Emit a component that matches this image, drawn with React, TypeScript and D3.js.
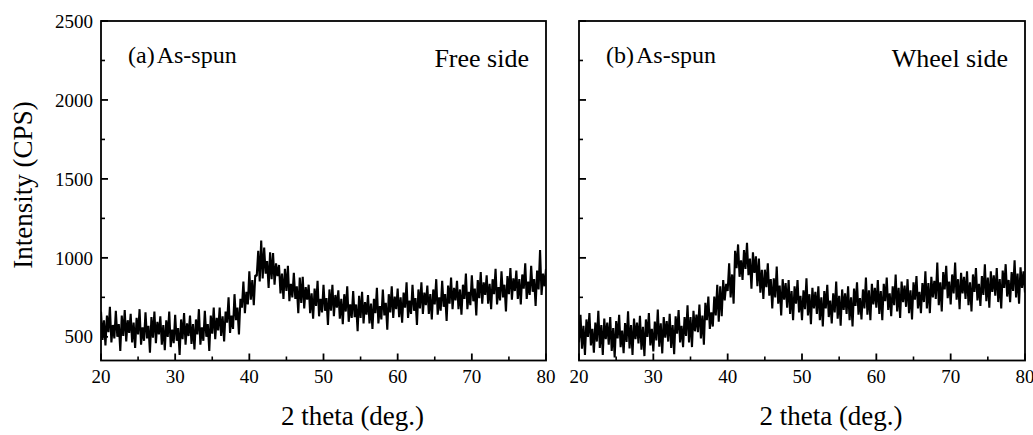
import React from "react";
import * as d3 from "d3";

// 2-theta grid: 20 to 80 deg, 0.2 deg step
const thetaStart = 20;
const thetaStep = 0.2;

// Panel (a) As-spun, free side — intensity (CPS)
const freeSide: number[] = [
  660, 480, 605, 445, 635,
  530, 690, 465, 575, 490,
  665, 500, 580, 410, 635,
  505, 670, 470, 605, 525,
  645, 465, 590, 430, 620,
  515, 675, 450, 560, 475,
  655, 490, 570, 400, 625,
  495, 660, 460, 595, 515,
  630, 450, 575, 415, 605,
  500, 660, 435, 545, 460,
  640, 475, 555, 385, 610,
  485, 650, 450, 585, 505,
  635, 455, 580, 420, 610,
  515, 675, 450, 560, 475,
  665, 500, 580, 410, 635,
  520, 685, 485, 620, 540,
  685, 505, 630, 470, 660,
  590, 750, 525, 635, 550,
  770, 605, 685, 515, 740,
  685, 850, 650, 785, 705,
  915, 735, 860, 700, 890,
  885, 1045, 850, 1110, 870,
  1065, 900, 980, 810, 1035,
  865, 1030, 830, 965, 885,
  955, 775, 900, 740, 930,
  790, 950, 725, 835, 750,
  905, 740, 820, 650, 875,
  715, 880, 680, 815, 735,
  830, 650, 775, 615, 805,
  695, 855, 630, 740, 655,
  830, 665, 745, 575, 800,
  665, 830, 630, 765, 685,
  795, 615, 740, 580, 770,
  660, 820, 595, 705, 620,
  790, 625, 705, 535, 760,
  620, 785, 585, 720, 640,
  765, 585, 710, 550, 740,
  650, 810, 585, 695, 610,
  800, 635, 715, 545, 770,
  655, 820, 620, 755, 675,
  805, 625, 750, 590, 780,
  685, 845, 620, 730, 645,
  830, 665, 745, 575, 800,
  680, 845, 645, 780, 700,
  825, 645, 770, 610, 800,
  705, 865, 640, 750, 665,
  855, 690, 770, 600, 825,
  710, 875, 675, 810, 730,
  855, 675, 800, 640, 830,
  740, 900, 675, 785, 700,
  890, 725, 805, 635, 860,
  745, 910, 710, 845, 765,
  890, 710, 835, 675, 865,
  770, 930, 705, 815, 730,
  915, 750, 830, 660, 885,
  770, 935, 735, 870, 790,
  920, 740, 865, 705, 895,
  805, 965, 740, 850, 765,
  950, 785, 865, 695, 920,
  800, 1050, 765, 900, 820,
  930,
];

// Panel (b) As-spun, wheel side — intensity (CPS)
const wheelSide: number[] = [
  465, 640, 425, 570, 385,
  610, 500, 650, 445, 550,
  400, 590, 470, 665, 430,
  575, 385, 615, 485, 590,
  450, 625, 410, 555, 370,
  600, 490, 640, 435, 540,
  397, 587, 467, 662, 427,
  575, 385, 615, 485, 590,
  458, 633, 418, 563, 378,
  610, 500, 650, 445, 550,
  407, 597, 477, 672, 437,
  585, 395, 625, 495, 600,
  470, 645, 430, 575, 390,
  630, 520, 670, 465, 570,
  435, 625, 505, 700, 465,
  625, 435, 665, 535, 640,
  530, 705, 490, 635, 450,
  715, 605, 755, 550, 655,
  565, 755, 635, 830, 595,
  820, 630, 860, 730, 835,
  790, 965, 750, 895, 710,
  1045, 935, 1085, 880, 985,
  860, 1050, 930, 1095, 890,
  995, 805, 1035, 905, 1010,
  820, 995, 780, 925, 740,
  925, 815, 965, 760, 865,
  680, 870, 750, 945, 710,
  825, 635, 865, 735, 840,
  685, 860, 645, 790, 605,
  820, 710, 860, 655, 760,
  605, 795, 675, 870, 635,
  770, 580, 810, 680, 785,
  645, 820, 605, 750, 565,
  790, 680, 830, 625, 730,
  585, 775, 655, 850, 615,
  760, 570, 800, 670, 775,
  645, 820, 605, 750, 565,
  805, 695, 845, 640, 745,
  610, 800, 680, 875, 640,
  795, 605, 835, 705, 810,
  685, 860, 645, 790, 605,
  835, 725, 875, 670, 775,
  630, 820, 700, 895, 660,
  810, 620, 850, 720, 825,
  690, 865, 650, 795, 610,
  845, 735, 885, 680, 785,
  650, 840, 720, 915, 680,
  840, 650, 880, 750, 855,
  740, 970, 700, 845, 660,
  910, 800, 950, 745, 850,
  705, 895, 775, 970, 735,
  865, 675, 905, 775, 880,
  740, 915, 700, 845, 660,
  895, 785, 935, 730, 835,
  695, 885, 765, 960, 725,
  875, 685, 915, 785, 890,
  760, 935, 720, 865, 680,
  920, 810, 960, 755, 860,
  720, 910, 790, 985, 750,
  900, 710, 940, 810, 915,
  780,
];

const xMajorTicks = [20, 30, 40, 50, 60, 70, 80];
const xMinorTicks = [25, 35, 45, 55, 65, 75];
const yMajorTicks = [500, 1000, 1500, 2000, 2500];
const yMinorTicks = [750, 1250, 1750, 2250];

const panelLabels = ["(a)", "(b)"];
const sampleLabel = "As-spun";
const sideLabels = ["Free side", "Wheel side"];
const xTitle = "2 theta (deg.)";
const yTitle = "Intensity (CPS)";

const FONT = "'Liberation Serif', 'DejaVu Serif', serif";

const top = 21;
const bottom = 360.5;

type PanelProps = {
  left: number;
  right: number;
  values: number[];
  idx: number;
  showYLabels: boolean;
};

function Panel({ left, right, values, idx, showYLabels }: PanelProps) {
  const x = d3.scaleLinear().domain([20, 80]).range([left, right]);
  const y = d3.scaleLinear().domain([350, 2500]).range([bottom, top]);
  const pts: [number, number][] = values.map((v, i) => [thetaStart + i * thetaStep, v]);
  const line = d3
    .line<[number, number]>()
    .x((d) => x(d[0]))
    .y((d) => y(d[1]));
  const clipId = `clip-${idx}`;
  return (
    <g>
      <defs>
        <clipPath id={clipId}>
          <rect x={left} y={top} width={right - left} height={bottom - top} />
        </clipPath>
      </defs>
      <path
        d={line(pts) || ""}
        fill="none"
        stroke="#000"
        strokeWidth={2.1}
        strokeLinejoin="bevel"
        clipPath={`url(#${clipId})`}
      />
      <rect
        x={left}
        y={top}
        width={right - left}
        height={bottom - top}
        fill="none"
        stroke="#000"
        strokeWidth={1.8}
      />
      {xMajorTicks.map((t) => (
        <g key={`xM${t}`}>
          <line x1={x(t)} x2={x(t)} y1={bottom} y2={bottom - 7} stroke="#000" strokeWidth={1.8} />
          <text
            x={x(t)}
            y={383}
            textAnchor="middle"
            fontFamily={FONT}
            fontSize={19}
            fill="#000"
          >
            {t}
          </text>
        </g>
      ))}
      {xMinorTicks.map((t) => (
        <line key={`xm${t}`} x1={x(t)} x2={x(t)} y1={bottom} y2={bottom - 4} stroke="#000" strokeWidth={1.6} />
      ))}
      {yMajorTicks.map((t) => (
        <g key={`yM${t}`}>
          <line x1={left} x2={left + 7} y1={y(t)} y2={y(t)} stroke="#000" strokeWidth={1.8} />
          {showYLabels && (
            <text
              x={left - 8}
              y={y(t)}
              dy="0.35em"
              textAnchor="end"
              fontFamily={FONT}
              fontSize={19}
              fill="#000"
            >
              {t}
            </text>
          )}
        </g>
      ))}
      {yMinorTicks.map((t) => (
        <line key={`ym${t}`} x1={left} x2={left + 4} y1={y(t)} y2={y(t)} stroke="#000" strokeWidth={1.6} />
      ))}
      <text x={left + 27} y={63} fontFamily={FONT} fontSize={24} fill="#000">
        {panelLabels[idx]}
        <tspan dx={2}>{sampleLabel}</tspan>
      </text>
      <text x={right - 17} y={67} textAnchor="end" fontFamily={FONT} fontSize={26} fill="#000">
        {sideLabels[idx]}
      </text>
      <text
        x={(left + right) / 2 + 29}
        y={425}
        textAnchor="middle"
        fontFamily={FONT}
        fontSize={27}
        fill="#000"
      >
        {xTitle}
      </text>
    </g>
  );
}

export default function App() {
  return (
    <svg
      width={1033}
      height={435}
      style={{ position: "absolute", left: 0, top: 0, background: "#fff" }}
    >
      <rect x={0} y={0} width={1033} height={435} fill="#fff" />
      <Panel left={101} right={546} values={freeSide} idx={0} showYLabels={true} />
      <Panel left={579} right={1025} values={wheelSide} idx={1} showYLabels={false} />
      <text
        transform="translate(32,185) rotate(-90)"
        textAnchor="middle"
        fontFamily={FONT}
        fontSize={27}
        fill="#000"
      >
        {yTitle}
      </text>
    </svg>
  );
}
